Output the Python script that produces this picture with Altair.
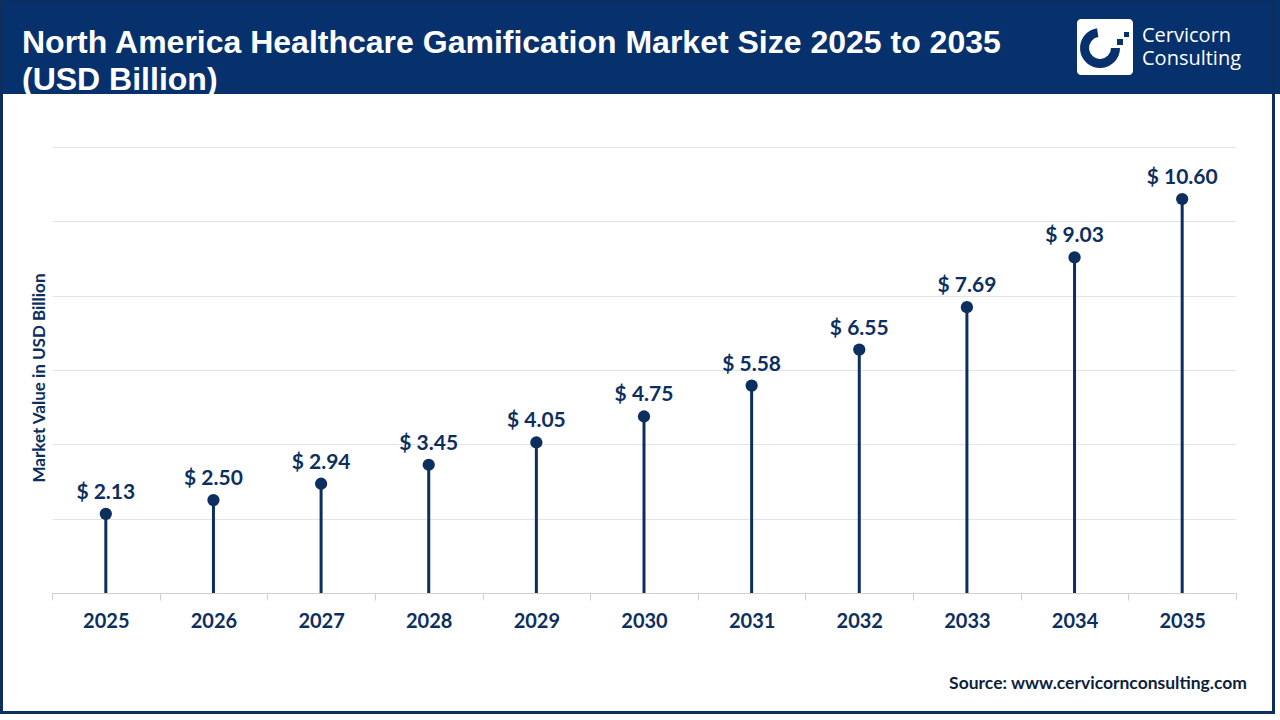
import math
import altair as alt
import pandas as pd

# Market size, USD billion
years = ["2025", "2026", "2027", "2028", "2029", "2030",
         "2031", "2032", "2033", "2034", "2035"]
values = [2.13, 2.50, 2.94, 3.45, 4.05, 4.75, 5.58, 6.55, 7.69, 9.03, 10.60]
y_ticks = [0, 2, 4, 6, 8, 10, 12]

title_lines = ["North America Healthcare Gamification Market Size 2025 to 2035",
               "(USD Billion)"]
y_title = "Market Value in USD Billion"
source_text = "Source: www.cervicornconsulting.com"
brand_lines = ["Cervicorn", "Consulting"]

NAVY = "#0c2f5f"
HEADER = "#07316c"
W, H = 1184, 446
PAD_L, PAD_T = 52, 147

df = pd.DataFrame({
    "year": years,
    "value": values,
    "label": [f"$ {v:.2f}" for v in values],
})

x_enc = alt.X(
    "year:O",
    sort=years,
    scale=alt.Scale(type="band", paddingInner=0, paddingOuter=0),
    axis=alt.Axis(
        title=None, labelAngle=0, tickBand="extent", tickSize=7,
        tickColor="#d0d0d0", domainColor="#d0d0d0", labelPadding=11,
        labelFont="Lato", labelFontWeight="bold", labelFontSize=20,
        labelColor=NAVY,
    ),
)
y_enc = alt.Y(
    "value:Q",
    scale=alt.Scale(domain=[0, 12], nice=False),
    axis=alt.Axis(
        title=None, values=y_ticks, labels=False, ticks=False, domain=False,
        grid=True, gridColor="#e4e4e4", gridWidth=1,
    ),
)

base = alt.Chart(df)
stems = base.mark_rule(color=NAVY, strokeWidth=3).encode(
    x=x_enc, y=y_enc, y2=alt.value(H)
)
dots = base.mark_circle(color=NAVY, size=150, opacity=1).encode(x=x_enc, y=y_enc)
labels = base.mark_text(
    font="Lato", fontWeight="bold", fontSize=21, color=NAVY,
    baseline="alphabetic", dy=-15,
).encode(x=x_enc, y=y_enc, text="label:N")


def single():
    return alt.Chart(alt.Data(values=[{}]))


# Page frame and header band
frame = single().mark_rect(filled=False, stroke=NAVY, strokeWidth=3).encode(
    x=alt.value(1.5 - PAD_L), x2=alt.value(1273.5 - PAD_L),
    y=alt.value(-PAD_T), y2=alt.value(712.5 - PAD_T),
)
header = single().mark_rect(color=HEADER).encode(
    x=alt.value(-PAD_L), x2=alt.value(1280 - PAD_L),
    y=alt.value(-PAD_T), y2=alt.value(94 - PAD_T),
)
title1 = single().mark_text(
    text=title_lines[0], font="Liberation Sans", fontWeight="bold",
    fontSize=32, color="white", align="left", baseline="alphabetic",
).encode(x=alt.value(22 - PAD_L), y=alt.value(53 - PAD_T))
title2 = single().mark_text(
    text=title_lines[1], font="Liberation Sans", fontWeight="bold",
    fontSize=32, color="white", align="left", baseline="alphabetic",
).encode(x=alt.value(22 - PAD_L), y=alt.value(90 - PAD_T))

# Brand mark
logo_box = single().mark_rect(color="white", cornerRadius=4).encode(
    x=alt.value(1077 - PAD_L), x2=alt.value(1133 - PAD_L),
    y=alt.value(19 - PAD_T), y2=alt.value(75 - PAD_T),
)
logo_ring = single().mark_arc(
    color=HEADER, radius=20, radius2=11,
    theta=math.pi / 2, theta2=2 * math.pi - 0.15,
).encode(x=alt.value(1100 - PAD_L), y=alt.value(48 - PAD_T))
logo_sq1 = single().mark_rect(color=HEADER).encode(
    x=alt.value(1117 - PAD_L), x2=alt.value(1123 - PAD_L),
    y=alt.value(39 - PAD_T), y2=alt.value(45 - PAD_T),
)
logo_sq2 = single().mark_rect(color=HEADER).encode(
    x=alt.value(1124 - PAD_L), x2=alt.value(1129 - PAD_L),
    y=alt.value(32 - PAD_T), y2=alt.value(37 - PAD_T),
)
brand = single().mark_text(
    text=brand_lines, font="Open Sans", fontSize=20, lineHeight=23,
    color="white", align="left", baseline="alphabetic",
).encode(x=alt.value(1142 - PAD_L), y=alt.value(42 - PAD_T))

y_label = single().mark_text(
    text=y_title, font="Lato", fontWeight="bold", fontSize=17, color=NAVY,
    angle=270, align="center", baseline="middle",
).encode(x=alt.value(40 - PAD_L), y=alt.value(378 - PAD_T))

source = single().mark_text(
    text=source_text, font="Lato", fontWeight="bold", fontSize=17.5,
    color="#0e1f3c", align="right", baseline="middle",
).encode(x=alt.value(1247 - PAD_L), y=alt.value(684 - PAD_T))

chart = alt.layer(
    header, frame, title1, title2, logo_box, logo_ring, logo_sq1, logo_sq2,
    brand, y_label, source, stems, dots, labels,
).properties(
    width=W, height=H,
    autosize=alt.AutoSizeParams(type="none"),
    padding={"left": PAD_L, "top": PAD_T, "right": 1280 - PAD_L - W,
             "bottom": 720 - PAD_T - H},
    background="white",
).configure_view(stroke=None)

chart.save("out.html", embed_options={"renderer": "svg", "actions": False})
